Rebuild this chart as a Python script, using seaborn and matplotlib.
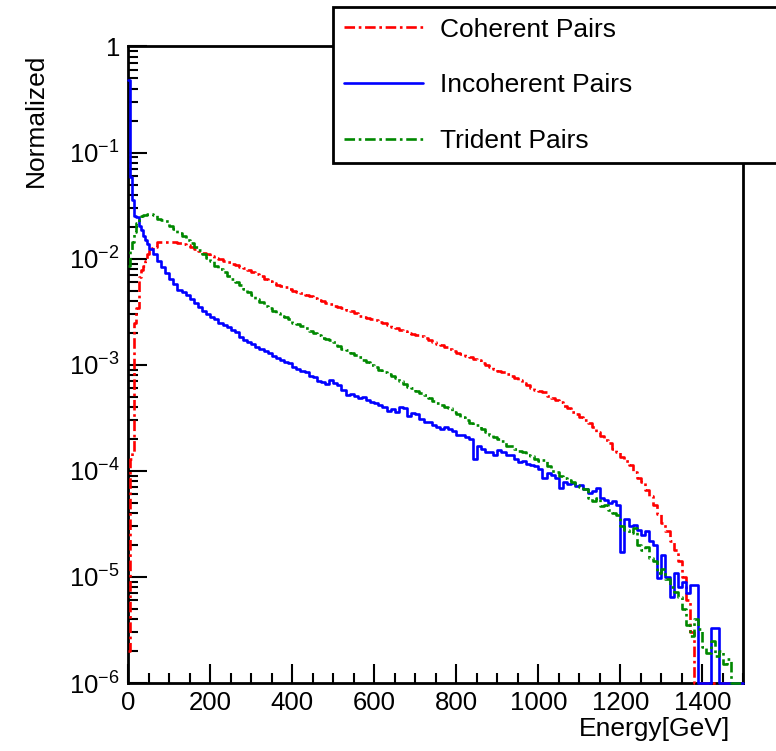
import numpy as np
import matplotlib
matplotlib.use("Agg")
import matplotlib.pyplot as plt
from matplotlib.ticker import FixedLocator, MultipleLocator, NullFormatter
import seaborn as sns

# low edge of each histogram bin in GeV (5 GeV bins below 50, 10 GeV above)
energy = [0, 5, 10, 15, 20, 25, 30, 35, 40, 45] + list(range(50, 1500, 10))

coherent = [
    2.0e-6, 1.3e-4, 1.5e-4, 2.5e-3, 3.4e-3, 6.7e-3, 7.8e-3, 8.5e-3, 9.5e-3, 1.1e-2,
    1.26e-2, 1.3e-2, 1.43e-2, 1.44e-2, 1.44e-2, 1.43e-2, 1.43e-2, 1.42e-2, 1.38e-2, 1.35e-2,
    1.3e-2, 1.24e-2, 1.19e-2, 1.14e-2, 1.1e-2, 1.06e-2, 1.02e-2, 9.9e-3, 9.6e-3, 9.3e-3,
    9.0e-3, 8.7e-3, 8.4e-3, 8.1e-3, 7.8e-3, 7.5e-3, 7.2e-3, 6.9e-3, 6.5e-3, 6.2e-3,
    5.9e-3, 5.7e-3, 5.5e-3, 5.4e-3, 5.2e-3, 5.0e-3, 4.85e-3, 4.7e-3, 4.55e-3, 4.4e-3,
    4.25e-3, 4.1e-3, 3.95e-3, 3.85e-3, 3.75e-3, 3.6e-3, 3.5e-3, 3.4e-3, 3.28e-3, 3.18e-3,
    3.05e-3, 2.9e-3, 2.85e-3, 2.78e-3, 2.7e-3, 2.64e-3, 2.55e-3, 2.45e-3, 2.35e-3, 2.27e-3,
    2.2e-3, 2.13e-3, 2.07e-3, 2.0e-3, 1.95e-3, 1.9e-3, 1.86e-3, 1.78e-3, 1.7e-3, 1.64e-3,
    1.58e-3, 1.52e-3, 1.47e-3, 1.41e-3, 1.35e-3, 1.29e-3, 1.25e-3, 1.21e-3, 1.18e-3, 1.14e-3,
    1.1e-3, 1.05e-3, 1.0e-3, 9.6e-4, 9.2e-4, 8.7e-4, 8.5e-4, 8.1e-4, 7.8e-4, 7.5e-4,
    7.2e-4, 6.8e-4, 6.4e-4, 6.1e-4, 5.8e-4, 5.6e-4, 5.5e-4, 5.1e-4, 4.9e-4, 4.7e-4,
    4.5e-4, 4.1e-4, 3.9e-4, 3.6e-4, 3.4e-4, 3.2e-4, 3.0e-4, 2.85e-4, 2.6e-4, 2.3e-4,
    2.15e-4, 1.95e-4, 1.85e-4, 1.6e-4, 1.5e-4, 1.35e-4, 1.25e-4, 1.13e-4, 9.8e-5, 8.6e-5,
    7.8e-5, 6.6e-5, 5.8e-5, 4.8e-5, 3.9e-5, 3.2e-5, 2.7e-5, 2.2e-5, 1.8e-5, 1.4e-5,
    1.0e-5, 6e-6, 3e-6, 0, 0, 0, 0, 0, 0, 0,
    0, 0, 0, 0, 0,
]

incoherent = [
    0.48, 0.059, 0.036, 0.025, 0.0249, 0.0203, 0.0185, 0.0164, 0.015, 0.0137,
    0.0123, 0.0111, 0.0095, 0.0084, 0.0074, 0.0064, 0.0058, 0.0051, 0.0048, 0.00454,
    0.00414, 0.00379, 0.00352, 0.00323, 0.0030, 0.0028, 0.0027, 0.00249, 0.00235, 0.00225,
    0.00212, 0.00205, 0.00184, 0.00172, 0.00163, 0.00157, 0.00148, 0.00142, 0.00136, 0.00128,
    0.00121, 0.00117, 0.0011, 0.00106, 0.00103, 0.00096, 0.00092, 0.00088, 0.00085, 0.00078,
    0.00076, 0.00071, 0.00069, 0.00066, 0.00072, 0.00068, 0.00064, 0.00058, 0.00052, 0.00053,
    0.00051, 0.00049, 0.0005, 0.00047, 0.00045, 0.00044, 0.00042, 0.0004, 0.00037, 0.00038,
    0.00036, 0.0004, 0.00039, 0.00033, 0.00035, 0.00034, 0.00031, 0.00029, 0.00029, 0.00027,
    0.00026, 0.00025, 0.00026, 0.00025, 0.00024, 0.00022, 0.00022, 0.00021, 0.0002, 0.00013,
    0.00017, 0.00016, 0.00015, 0.00015, 0.00014, 0.000158, 0.00015, 0.00014, 0.000142, 0.00013,
    0.00012, 0.000125, 0.000115, 0.000113, 0.00011, 0.000105, 8.5e-5, 9.5e-5, 9.2e-5, 8.5e-5,
    6.9e-5, 7.8e-5, 7.5e-5, 7.7e-5, 7.2e-5, 7.4e-5, 6.8e-5, 6.2e-5, 6.5e-5, 6.9e-5,
    5.6e-5, 5.3e-5, 5.0e-5, 5.2e-5, 4.8e-5, 1.7e-5, 3.5e-5, 3.0e-5, 3.1e-5, 2.8e-5,
    2.5e-5, 2.7e-5, 2.2e-5, 2.0e-5, 9.8e-6, 1.6e-5, 1.0e-5, 6.5e-6, 1.1e-5, 8e-6,
    9e-6, 7e-6, 8.4e-6, 8.4e-6, 0, 0, 0, 3.3e-6, 3.3e-6, 0,
    0, 0, 0, 0, 0,
]

trident = [
    0.0085, 0.0121, 0.0144, 0.0178, 0.0215, 0.024, 0.025, 0.0258, 0.026, 0.0262,
    0.0262, 0.0258, 0.0235, 0.0231, 0.0225, 0.0205, 0.019, 0.0175, 0.0162, 0.015,
    0.014, 0.0128, 0.012, 0.011, 0.0102, 0.0095, 0.0086, 0.008, 0.0075, 0.0068,
    0.0064, 0.006, 0.0056, 0.0052, 0.0049, 0.0045, 0.0042, 0.0039, 0.0036, 0.0034,
    0.0032, 0.0031, 0.0029, 0.0028, 0.0027, 0.0025, 0.0024, 0.0023, 0.0022, 0.0021,
    0.002, 0.0019, 0.0018, 0.00175, 0.0017, 0.00164, 0.0015, 0.00142, 0.00138, 0.0013,
    0.00124, 0.00118, 0.00112, 0.00106, 0.001, 0.00095, 0.0009, 0.00085, 0.00081, 0.00078,
    0.00075, 0.0007, 0.00066, 0.00062, 0.0006, 0.00057, 0.00054, 0.00052, 0.00049, 0.00046,
    0.00044, 0.00042, 0.0004, 0.00039, 0.00036, 0.00034, 0.00032, 0.0003, 0.00028, 0.00027,
    0.00027, 0.00025, 0.00023, 0.00022, 0.00021, 0.0002, 0.00019, 0.00017, 0.00017, 0.00016,
    0.000155, 0.00015, 0.00014, 0.000138, 0.00013, 0.000125, 0.000127, 0.000112, 0.0001, 9.8e-5,
    9.0e-5, 8.5e-5, 8.2e-5, 7.8e-5, 7.4e-5, 7.0e-5, 6.8e-5, 5.5e-5, 5.2e-5, 5.6e-5,
    4.7e-5, 4.8e-5, 4.3e-5, 4.0e-5, 3.8e-5, 3.0e-5, 2.8e-5, 2.6e-5, 2.9e-5, 2.0e-5,
    1.8e-5, 1.9e-5, 1.5e-5, 1.4e-5, 1.1e-5, 1.2e-5, 9.5e-6, 8e-6, 7.2e-6, 6.5e-6,
    5e-6, 3.5e-6, 2.8e-6, 4e-6, 3.2e-6, 2.2e-6, 1.9e-6, 2.5e-6, 1.8e-6, 2e-6,
    1.5e-6, 1.7e-6, 0, 0, 0,
]

labels = ["Coherent Pairs", "Incoherent Pairs", "Trident Pairs"]
colors = ["#ff0000", "#0000ff", "#008800"]
styles = [(0, (4, 1.4, 1, 1.4)), "-", (0, (4, 1.4, 1, 1.4))]

y_ticks = [1e-6, 1e-5, 1e-4, 1e-3, 1e-2, 1e-1, 1]
y_tick_labels = ["$10^{-6}$", "$10^{-5}$", "$10^{-4}$", "$10^{-3}$",
                 "$10^{-2}$", "$10^{-1}$", "1"]

E_MAX = 1500
Y_MIN = 1e-6


def main() -> None:
    sns.set_style("ticks")
    plt.rcParams["font.family"] = ["Liberation Sans", "DejaVu Sans"]
    plt.rcParams["mathtext.fontset"] = "custom"
    plt.rcParams["mathtext.rm"] = "Liberation Sans"
    plt.rcParams["mathtext.it"] = "Liberation Sans"
    plt.rcParams["text.color"] = "black"
    plt.rcParams["axes.labelcolor"] = "black"
    plt.rcParams["xtick.color"] = "black"
    plt.rcParams["ytick.color"] = "black"

    fig = plt.figure(figsize=(7.76, 7.51), dpi=100)
    ax = fig.add_axes([0.1653, 0.0905, 0.7926, 0.8476])

    x_edges = energy + [E_MAX]
    for label, vals, color, ls in zip(labels, [coherent, incoherent, trident], colors, styles):
        y = np.clip(np.array(vals + [vals[-1]], dtype=float), Y_MIN, None)
        sns.lineplot(x=x_edges, y=y, ax=ax, color=color, linestyle=ls, lw=1.9,
                     drawstyle="steps-post", estimator=None, errorbar=None,
                     label=label, zorder=3, clip_on=False)

    ax.set_yscale("log")
    ax.set_xlim(0, E_MAX)
    ax.set_ylim(Y_MIN, 1)

    ax.xaxis.set_major_locator(MultipleLocator(200))
    ax.xaxis.set_minor_locator(MultipleLocator(50))
    ax.yaxis.set_major_locator(FixedLocator(y_ticks))
    ax.set_yticklabels(y_tick_labels)
    minor = [m * 10.0 ** e for e in range(-6, 0) for m in range(2, 10)]
    ax.yaxis.set_minor_locator(FixedLocator(minor))
    ax.yaxis.set_minor_formatter(NullFormatter())

    ax.tick_params(axis="both", which="both", direction="in", color="black",
                   labelcolor="black", labelsize=18.5, pad=6, top=False, right=False)
    ax.tick_params(which="major", length=14, width=1.5)
    ax.tick_params(which="minor", length=7, width=1.5)
    for sp in ax.spines.values():
        sp.set_linewidth(2)
        sp.set_color("black")

    ax.set_xlabel("Energy[GeV]", fontsize=19, ha="right")
    ax.xaxis.set_label_coords(0.979, -0.054)
    ax.set_ylabel("Normalized", fontsize=19, loc="top")
    ax.yaxis.set_label_coords(-0.13, 0.989)

    leg = ax.legend(loc="upper left", bbox_to_anchor=(333 / 776, 1 - 7 / 751, 0.6, 0),
                    bbox_transform=fig.transFigure, mode="expand", borderaxespad=0,
                    fancybox=False, framealpha=1, edgecolor="black",
                    handlelength=3.0, handletextpad=0.65, labelspacing=1.2,
                    borderpad=0.4, prop={"size": 19})
    leg.get_frame().set_linewidth(2)
    leg.set_zorder(5)

    fig.savefig("out.png", dpi=100)


if __name__ == "__main__":
    main()
